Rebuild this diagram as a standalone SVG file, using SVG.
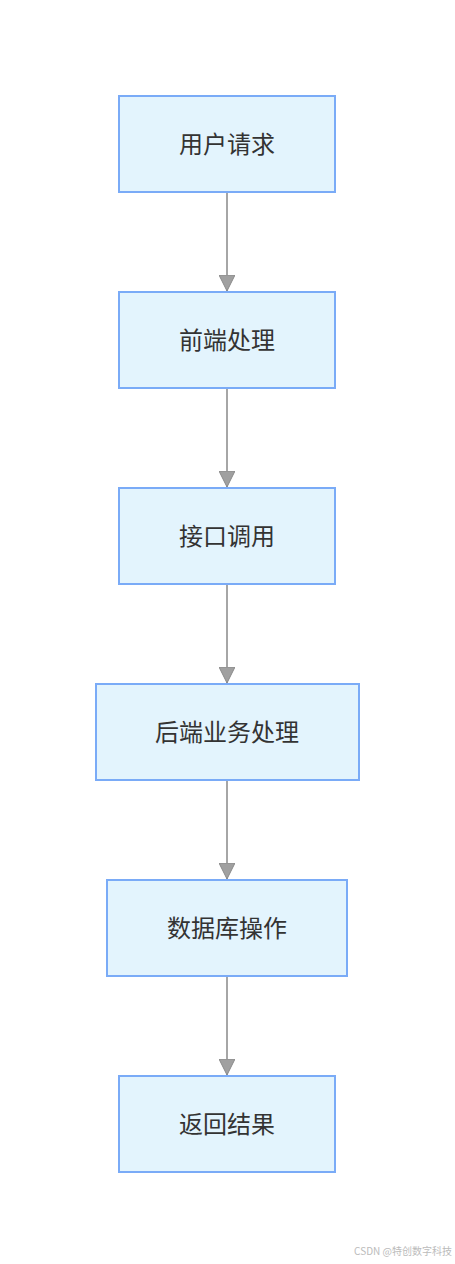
<svg xmlns="http://www.w3.org/2000/svg" width="455" height="1264" viewBox="0 0 455 1264">
<style>
.n rect{fill:#e3f4fd;stroke:#7aabf7;stroke-width:2}
.n text{font-family:"Noto Sans CJK SC","Noto Sans",sans-serif;font-size:24px;fill:#333;text-anchor:middle;dominant-baseline:central}
.e line{stroke:#a6a6a6;stroke-width:2}
.wm{font-family:"Noto Sans CJK SC","Noto Sans",sans-serif;font-size:10px;fill:#bbb}
</style>
<defs>
<marker id="ah" viewBox="0 0 16 16" refX="16" refY="8" markerWidth="16" markerHeight="16" markerUnits="userSpaceOnUse" orient="auto">
<path d="M0,0 L16,8 L0,16 Z" fill="#a0a0a0" stroke="#8a8a8a" stroke-width="1"/>
</marker>
</defs>
<rect width="455" height="1264" fill="#fff"/>
<g class="e">
<line x1="227" y1="192" x2="227" y2="291" marker-end="url(#ah)"/>
<line x1="227" y1="388" x2="227" y2="487" marker-end="url(#ah)"/>
<line x1="227" y1="584" x2="227" y2="683" marker-end="url(#ah)"/>
<line x1="227" y1="780" x2="227" y2="879" marker-end="url(#ah)"/>
<line x1="227" y1="976" x2="227" y2="1075" marker-end="url(#ah)"/>
</g>
<g id="n1" class="n"><rect x="119" y="96" width="216" height="96"/><text x="227" y="142">用户请求</text></g>
<g id="n2" class="n"><rect x="119" y="292" width="216" height="96"/><text x="227" y="338">前端处理</text></g>
<g id="n3" class="n"><rect x="119" y="488" width="216" height="96"/><text x="227" y="534">接口调用</text></g>
<g id="n4" class="n"><rect x="96" y="684" width="263" height="96"/><text x="227" y="730">后端业务处理</text></g>
<g id="n5" class="n"><rect x="107" y="880" width="240" height="96"/><text x="227" y="926">数据库操作</text></g>
<g id="n6" class="n"><rect x="119" y="1076" width="216" height="96"/><text x="227" y="1122">返回结果</text></g>
<text class="wm" x="452" y="1255" text-anchor="end">CSDN @特创数字科技</text>
</svg>
